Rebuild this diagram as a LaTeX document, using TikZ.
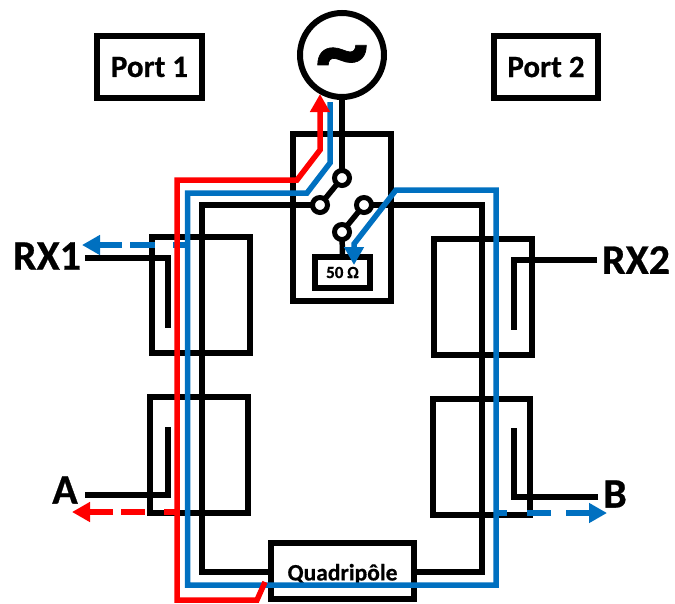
\documentclass[tikz,border=0pt]{standalone}
\usepackage{fontspec}
\setmainfont[BoldFeatures={FakeBold=0.6}]{Carlito}
\usetikzlibrary{arrows.meta}
\definecolor{sigblue}{HTML}{0070C0}
\definecolor{sigred}{HTML}{FF0000}
\tikzset{
  boxed/.style={draw=black,line width=6pt,fill=none,inner sep=0pt,outer sep=0pt,font=\bfseries},
  pin/.style={circle,draw=black,fill=white,line width=5pt,minimum size=15pt,inner sep=0pt,outer sep=0pt},
  wire/.style={draw=black,line width=5.5pt,line join=miter},
  blueway/.style={draw=sigblue,line width=5.5pt,line join=miter},
  redway/.style={draw=sigred,line width=5.5pt,line join=miter},
  tip/.style={-{Triangle[length=18pt,width=19pt]}},
  bigl/.style={font=\fontsize{42}{42}\selectfont\bfseries,inner sep=0pt},
}
\begin{document}
\begin{tikzpicture}[x=1pt,y=-1pt]
\useasboundingbox (0,0) rectangle (675,603);
% ports and generator
\node[boxed,minimum width=105pt,minimum height=62pt,font=\fontsize{31}{31}\selectfont\bfseries] (port1) at (149.5,67) {\raisebox{-1pt}{Port 1}};
\node[boxed,minimum width=104pt,minimum height=62pt,font=\fontsize{31}{31}\selectfont\bfseries] (port2) at (546,67) {Port 2};
\node[circle,draw=black,line width=6pt,minimum size=84pt,inner sep=0pt,outer sep=0pt] (gen) at (342,55) {};
\node[font=\fontsize{106}{106}\selectfont\bfseries,inner sep=0pt] (tilde) at (342,65) {\char"007E};
% switch box
\node[boxed,minimum width=98pt,minimum height=167pt] (swbox) at (342,217) {};
\node[boxed,minimum width=55pt,minimum height=31pt,font=\fontsize{17}{17}\selectfont\bfseries] (load) at (342.5,272.5) {50 Ω};
% couplers
\node[boxed,minimum width=98pt,minimum height=116pt] (c1) at (201,295) {};
\node[boxed,minimum width=98pt,minimum height=116pt] (c3) at (199,455) {};
\node[boxed,minimum width=98pt,minimum height=116pt] (c2) at (483,297) {};
\node[boxed,minimum width=97pt,minimum height=116pt] (c4) at (481.5,457) {};
\node[boxed,minimum width=143pt,minimum height=56pt] (quad) at (342.5,571) {};
\node[font=\fontsize{23.5}{23.5}\selectfont\bfseries,inner sep=0pt] (quadtext) at (342.5,574) {Quadripôle};
% labels
\node[bigl] (lrx1) at (47,256) {RX1};
\node[bigl] (la) at (65,490) {A};
\node[bigl] (lrx2) at (636,260) {RX2};
\node[bigl] (lb) at (615,494) {B};
% coordinates
\coordinate (loopTL) at (202,205);
\coordinate (loopBL) at (202,572);
\coordinate (loopTR) at (482,205);
\coordinate (loopBR) at (482,572);
\coordinate (rx1a) at (85,258); \coordinate (rx1b) at (168,258); \coordinate (rx1c) at (168,328);
\coordinate (aa) at (85,495); \coordinate (ab) at (168,495); \coordinate (ac) at (168,427);
\coordinate (rx2a) at (597,260); \coordinate (rx2b) at (514,260); \coordinate (rx2c) at (514,330);
\coordinate (ba) at (598,497); \coordinate (bb) at (514,497); \coordinate (bc) at (514,428);
% pins
\coordinate (pA) at (342,178); \coordinate (pB) at (320,205);
\coordinate (pC) at (364,205); \coordinate (pD) at (342,232);
% black wires
\draw[wire] (gen.south) -- (pA);
\draw[wire] (pA) -- (pB);
\draw[wire] (pC) -- (pD);
\draw[wire] (pD) -- (load.north);
\draw[wire] (pB) -- (loopTL) -- (loopBL) -- (quad.west |- loopBL);
\draw[wire] (pC) -- (loopTR) -- (loopBR) -- (quad.east |- loopBR);
\draw[wire] (rx1a) -- (rx1b) -- (rx1c);
\draw[wire] (aa) -- (ab) -- (ac);
\draw[wire] (rx2a) -- (rx2b) -- (rx2c);
\draw[wire] (ba) -- (bb) -- (bc);
\node[pin] (swA) at (pA) {};
\node[pin] (swB) at (pB) {};
\node[pin] (swC) at (pC) {};
\node[pin] (swD) at (pD) {};
% dashed exits
\coordinate (b1tip) at (82,245); \coordinate (b1s) at (122,245);
\coordinate (b1d1) at (130,245); \coordinate (b1d2) at (155,245);
\coordinate (b1d3) at (173,245); \coordinate (b1d4) at (187,245);
\draw[blueway,tip] (b1s) -- (b1tip);
\draw[blueway] (b1d1) -- (b1d2);
\draw[blueway] (b1d3) -- (b1d4);
\coordinate (b2d1) at (496,513); \coordinate (b2d2) at (507,513);
\coordinate (b2d3) at (527,513); \coordinate (b2d4) at (551,513);
\coordinate (b2s) at (566,513); \coordinate (b2tip) at (607,513);
\draw[blueway] (b2d1) -- (b2d2);
\draw[blueway] (b2d3) -- (b2d4);
\draw[blueway,tip] (b2s) -- (b2tip);
% blue route
\coordinate (bw0) at (330,102); \coordinate (bw1) at (330,163); \coordinate (bw2) at (307,193);
\coordinate (bw3) at (187.5,193); \coordinate (bw4) at (187.5,585); \coordinate (bw5) at (496,585);
\coordinate (bw6) at (496,190); \coordinate (bw7) at (396,190); \coordinate (bw8a) at (354,244); \coordinate (bw8) at (354,265);
\draw[blueway,tip] (bw0) -- (bw1) -- (bw2) -- (bw3) -- (bw4) -- (bw5) -- (bw6) -- (bw7) -- (bw8a) -- (bw8);
% red route
\coordinate (rw0) at (265,582); \coordinate (rw1) at (257,600); \coordinate (rw2) at (177,600);
\coordinate (rw3) at (177,180); \coordinate (rw4) at (297,180); \coordinate (rw5) at (320,150);
\coordinate (rw6) at (320,94);
\draw[redway,tip] (rw0) -- (rw1) -- (rw2) -- (rw3) -- (rw4) -- (rw5) -- (rw6);
\coordinate (r1tip) at (72,512); \coordinate (r1s) at (113,512);
\coordinate (r1d1) at (121,512); \coordinate (r1d2) at (145,512);
\coordinate (r1d3) at (164,512); \coordinate (r1d4) at (177,512);
\draw[redway,tip] (r1s) -- (r1tip);
\draw[redway] (r1d1) -- (r1d2);
\draw[redway] (r1d3) -- (r1d4);
\end{tikzpicture}
\end{document}
